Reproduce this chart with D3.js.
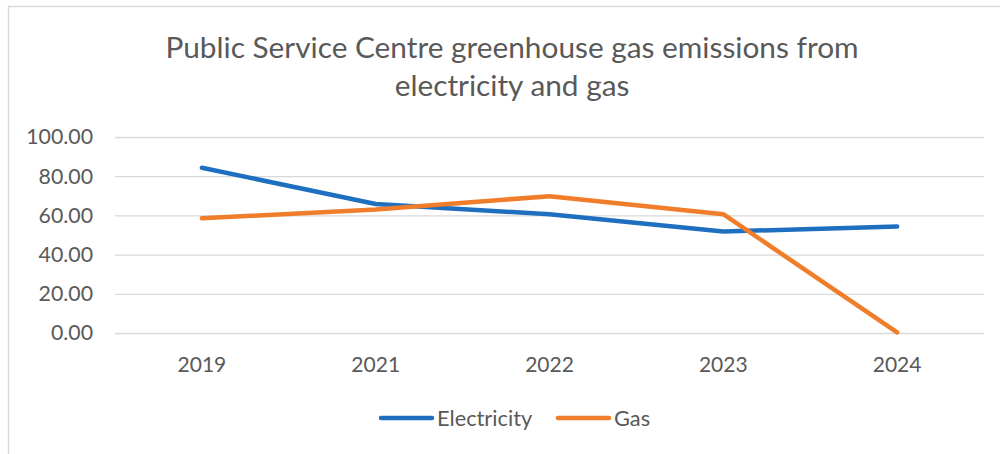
<!DOCTYPE html>
<html><head><meta charset="utf-8">
<script src="https://cdn.jsdelivr.net/npm/d3@7"></script>
<style>body{margin:0;background:#fff}svg{display:block}</style>
</head><body>
<svg id="c" width="1000" height="454"></svg>
<script>
const years = ["2019","2021","2022","2023","2024"];
const electricity = [84.3, 65.8, 60.6, 51.8, 54.3];
const gas = [58.5, 63.0, 69.8, 60.6, 0.3];
const yTicks = [0, 20, 40, 60, 80, 100];
const titleLines = ["Public Service Centre greenhouse gas emissions from", "electricity and gas"];

const svg = d3.select("#c");
const font = "Lato, 'Open Sans', sans-serif";
const txt = "#595959";

svg.append("rect").attr("x",8.5).attr("y",6.5).attr("width",1000).attr("height",460)
  .attr("fill","#fff").attr("stroke","#d9d9d9").attr("stroke-width",1.5);

const m = {left:115, right:984, top:137, bottom:333};
const x = d3.scaleBand().domain(years).range([m.left, m.right]);
const y = d3.scaleLinear().domain([0,100]).range([m.bottom, m.top]);

svg.append("g").selectAll("text").data(titleLines).join("text")
  .attr("x", 512).attr("y", (d,i)=>58 + i*38)
  .attr("text-anchor","middle").attr("font-family",font).attr("font-size",29.8)
  .attr("fill",txt).text(d=>d);

const yAxis = d3.axisLeft(y).tickValues(yTicks).tickSize(-(m.right-m.left)).tickPadding(22)
  .tickFormat(d3.format(".2f"));
const gy = svg.append("g").attr("transform",`translate(${m.left},0)`).call(yAxis);
gy.select(".domain").remove();
gy.selectAll(".tick line").attr("stroke","#d9d9d9").attr("stroke-width",1.3);
gy.selectAll(".tick text").attr("font-family",font).attr("font-size",21.3).attr("fill",txt);

const xAxis = d3.axisBottom(x).tickSize(0).tickPadding(24);
const gx = svg.append("g").attr("transform",`translate(0,${m.bottom})`).call(xAxis);
gx.select(".domain").remove();
gx.selectAll(".tick text").attr("font-family",font).attr("font-size",21).attr("fill",txt);

const series = [
  {name:"Electricity", values:electricity, color:"#1f6fc0"},
  {name:"Gas", values:gas, color:"#f07d2a"}
];
const line = d3.line().x((d,i)=>x(years[i])+x.bandwidth()/2).y(d=>y(d));
svg.append("g").selectAll("path").data(series).join("path")
  .attr("d",d=>line(d.values)).attr("fill","none").attr("stroke",d=>d.color)
  .attr("stroke-width",4.5).attr("stroke-linecap","round").attr("stroke-linejoin","round");

const legX = [381, 558];
const lg = svg.append("g").selectAll("g").data(series).join("g")
  .attr("transform",(d,i)=>`translate(${legX[i]},418)`);
lg.append("line").attr("x1",0).attr("x2",51).attr("stroke",d=>d.color)
  .attr("stroke-width",4.5).attr("stroke-linecap","round");
lg.append("text").attr("x",56).attr("y",8).attr("font-family",font).attr("font-size",21.8)
  .attr("fill",txt).text(d=>d.name);
</script>
</body></html>
